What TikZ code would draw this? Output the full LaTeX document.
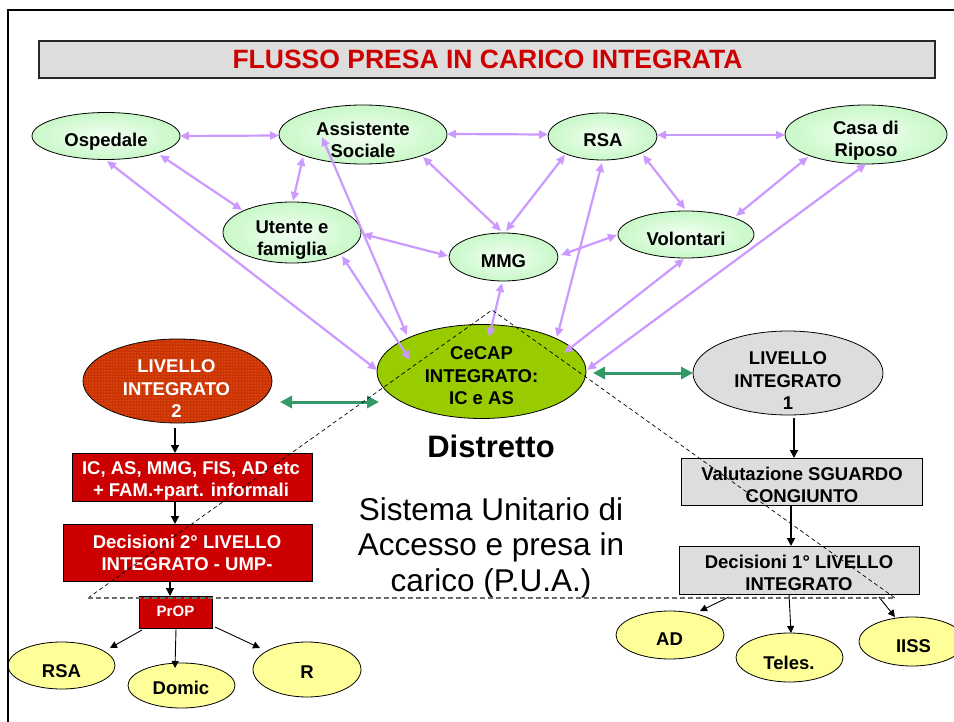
\documentclass[tikz,border=0pt]{standalone}
\usepackage{fontspec}
\setmainfont{Liberation Sans}
\usetikzlibrary{shapes.geometric,arrows.meta,calc,patterns}
\definecolor{purp}{RGB}{204,153,255}
\definecolor{grn}{RGB}{51,153,102}
\definecolor{cecapc}{RGB}{153,204,0}
\definecolor{liv2c}{RGB}{204,51,0}
\definecolor{liv2dot}{RGB}{236,150,120}
\definecolor{redbox}{RGB}{204,0,0}
\definecolor{graybox}{RGB}{221,221,221}
\definecolor{yel}{RGB}{255,255,153}
\definecolor{lgin}{RGB}{244,255,244}
\definecolor{lgout}{RGB}{200,248,200}
\definecolor{dashgray}{RGB}{110,110,110}
\begin{document}
\begin{tikzpicture}[x=1pt,y=-1pt,
  ell/.style={ellipse, draw=black, line width=0.8pt, inner sep=0pt, outer sep=0pt},
  gell/.style={ell, inner color=lgin, outer color=lgout},
  yell/.style={ell, fill=yel},
  boxn/.style={rectangle, draw=black, line width=0.8pt, inner sep=0pt, outer sep=0pt},
  lbl/.style={font=\bfseries\fontsize{18.5}{22}\selectfont, align=center, inner sep=0pt},
  lbltri/.style={font=\bfseries\fontsize{18.5}{22.5}\selectfont, align=center, inner sep=0pt},
  purpconn/.style={draw=purp, line width=2.2pt, arrows={Triangle[length=9pt,width=8pt]-Triangle[length=9pt,width=8pt]}},
  grnconn/.style={draw=grn, line width=3pt, arrows={Triangle[length=12pt,width=12pt]-Triangle[length=12pt,width=12pt]}},
  blkconn/.style={draw=black, line width=1.3pt, arrows={-Triangle[length=8pt,width=8pt]}},
  thinconn/.style={draw=black, line width=0.9pt, arrows={-Triangle[length=7pt,width=7pt]}}
]
\useasboundingbox (0,0) rectangle (954,722);
\fill[white] (0,0) rectangle (954,722);

% title
\node[boxn, draw={rgb,255:red,40;green,40;blue,40}, line width=1.5pt, fill=graybox, minimum width=896pt, minimum height=37pt] (title) at (487,59.5) {};
\node[font=\bfseries\fontsize{26.5}{30}\selectfont, text=redbox, inner sep=0pt] (titleT) at (487.5,59) {FLUSSO PRESA IN CARICO INTEGRATA};

% top ellipses
\node[gell, minimum width=148pt, minimum height=47pt] (osp) at (106,136) {};
\node[gell, minimum width=168pt, minimum height=59pt] (as) at (363,134.5) {};
\node[gell, minimum width=109pt, minimum height=47pt] (rsa) at (602.5,136.5) {};
\node[gell, minimum width=162pt, minimum height=59pt] (casa) at (866,134.5) {};
\node[gell, minimum width=138pt, minimum height=61pt] (ut) at (292,232.5) {};
\node[gell, minimum width=109pt, minimum height=48pt] (mmg) at (503.5,257) {};
\node[gell, minimum width=136pt, minimum height=47pt] (vol) at (686,234.5) {};
\node[ell, fill=cecapc, minimum width=209pt, minimum height=94pt] (cecap) at (481.5,371.5) {};
\node[ell, fill=liv2c, postaction={pattern=dots, pattern color=liv2dot}, minimum width=189pt, minimum height=84pt] (liv2) at (177.5,381) {};
\node[ell, fill=graybox, minimum width=190pt, minimum height=84pt] (liv1) at (788,373) {};

\node[lbl] (ospT) at (106,142) {Ospedale};
\node[lbl] (asT) at (363,139.5) {Assistente\\Sociale};
\node[lbl] (rsaT) at (603,140.5) {RSA};
\node[lbl] (casaT) at (866,141) {Casa di\\Riposo};
\node[lbl] (utT) at (292,240.5) {Utente e\\famiglia};
\node[lbl] (mmgT) at (503.5,261.5) {MMG};
\node[lbl] (volT) at (686,238.5) {Volontari};
\node[lbltri] (cecapT) at (481.5,376) {CeCAP\\INTEGRATO:\\IC e AS};
\node[lbltri, text=white] (liv2T) at (176.5,389) {LIVELLO\\INTEGRATO\\2};
\node[lbltri] (liv1T) at (788,381) {LIVELLO\\INTEGRATO\\1};

% boxes
\node[boxn, fill=redbox, minimum width=240pt, minimum height=48pt] (box1) at (192,477) {};
\node[boxn, fill=redbox, minimum width=249pt, minimum height=57pt] (box2) at (187.5,552.5) {};
\node[boxn, fill=redbox, minimum width=73pt, minimum height=32pt] (prop) at (175.5,612) {};
\node[boxn, fill=graybox, minimum width=241pt, minimum height=47pt] (val) at (801.5,481.5) {};
\node[boxn, fill=graybox, minimum width=240pt, minimum height=48pt] (dec1) at (799,570) {};

\node[lbl, text=white] (box1T) at (191,481) {IC, AS, MMG, FIS, AD etc\\+ FAM.+part. informali};
\node[lbl, text=white] (box2T) at (187,552.5) {Decisioni 2° LIVELLO\\INTEGRATO - UMP-};
\node[font=\bfseries\fontsize{15}{18}\selectfont, text=white, inner sep=0pt] (propT) at (175.5,611.5) {PrOP};
\node[lbl] (valT) at (802,485) {Valutazione SGUARDO\\CONGIUNTO};
\node[lbl] (dec1T) at (799,573) {Decisioni 1° LIVELLO\\INTEGRATO};

% bottom ellipses
\node[yell, minimum width=107pt, minimum height=47pt] (rsa2) at (61.5,665.5) {};
\node[yell, minimum width=107pt, minimum height=45pt] (domic) at (181.5,685.5) {};
\node[yell, minimum width=108pt, minimum height=55pt] (rr) at (307,669.5) {};
\node[yell, minimum width=108pt, minimum height=48pt] (ad) at (670,635) {};
\node[yell, minimum width=107pt, minimum height=49pt] (teles) at (789.5,657.5) {};
\node[yell, minimum width=106pt, minimum height=49pt] (iiss) at (912,641.5) {};

\node[lbl] (rsa2T) at (61.5,671) {RSA};
\node[lbl] (domicT) at (181,688.3) {Domic};
\node[lbl] (rrT) at (307,672.5) {R};
\node[lbl] (adT) at (669.5,639.5) {AD};
\node[lbl] (telesT) at (789,662.5) {Teles.};
\node[lbl] (iissT) at (913.5,646.5) {IISS};

% central texts
\node[font=\bfseries\fontsize{31}{36}\selectfont, inner sep=0pt] (distr) at (491,446) {Distretto};
\node[font=\fontsize{31.5}{35.5}\selectfont, align=center, inner sep=0pt] (pua) at (491,547.5) {Sistema Unitario di\\Accesso e presa in\\carico (P.U.A.)};

% purple connectors
\draw[purpconn] ($(osp)+(74,0)$) -- ($(as)+(-84,1)$);
\draw[purpconn] ($(as)+(84,-0.5)$) -- ($(rsa)+(-54.5,-2)$);
\draw[purpconn] ($(rsa)+(54.5,-1.5)$) -- ($(casa)+(-81,0.5)$);
\draw[purpconn] ($(osp)+(54,19)$) -- ($(ut)+(-50,-22.5)$);
\draw[purpconn] ($(as)+(-60,22.5)$) -- ($(ut)+(1,-31.5)$);
\draw[purpconn] ($(osp)+(1,25)$) -- ($(cecap)+(-104.5,-1.5)$);
\draw[purpconn] ($(ut)+(71,1.5)$) -- ($(mmg)+(-55.5,-1)$);
\draw[purpconn] ($(ut)+(50,23.5)$) -- ($(cecap)+(-71.5,-11.5)$);
\draw[purpconn] ($(as)+(-41,2.5)$) -- ($(cecap)+(-74.5,-36.5)$);
\draw[purpconn] ($(as)+(60,22.5)$) -- ($(mmg)+(-2.5,-26)$);
\draw[purpconn] ($(rsa)+(-37.5,18.5)$) -- ($(mmg)+(2.5,-26)$);
\draw[purpconn] ($(rsa)+(40.5,18.5)$) -- ($(vol)+(-1,-25.5)$);
\draw[purpconn] ($(casa)+(-58,22.5)$) -- ($(vol)+(50,-18.5)$);
\draw[purpconn] ($(vol)+(-69,0.5)$) -- ($(mmg)+(57.5,-2)$);
\draw[purpconn] ($(rsa)+(-0.5,26.5)$) -- ($(cecap)+(75.5,-34.5)$);
\draw[purpconn] ($(vol)+(-2,24.5)$) -- ($(cecap)+(82.5,-18.5)$);
\draw[purpconn] ($(casa)+(0,29.5)$) -- ($(cecap)+(105.5,-1.5)$);
\draw[purpconn] ($(mmg)+(-1.5,26)$) -- ($(cecap)+(7.5,-34.5)$);

% green connectors
\draw[grnconn] ($(liv2)+(102.5,21)$) -- ($(cecap)+(-102.5,30.5)$);
\draw[grnconn] ($(cecap)+(111.5,1.5)$) -- ($(liv1)+(-95,0)$);

% black connectors
\draw[blkconn] ($(liv2.south)+(-2.5,5)$) -- ($(box1.north)+(-17,0)$);
\draw[blkconn] ($(box1.south)+(-17,0)$) -- ($(box2.north)+(-12.5,0)$);
\draw[blkconn] ($(box2.south)+(-17.5,0)$) -- ($(prop.north)+(-5.5,0)$);
\draw[thinconn] ($(prop)+(-33.5,18)$) -- ($(rsa2)+(48.5,-17.5)$);
\draw[thinconn] ($(prop)+(0.5,17)$) -- ($(domic)+(-6.5,-17.5)$);
\draw[thinconn] ($(prop)+(39.5,15)$) -- ($(rr)+(-47,-21.5)$);
\draw[blkconn, line width=1.7pt] ($(liv1)+(6,45)$) -- ($(val)+(-7.5,-23.5)$);
\draw[blkconn, line width=1.7pt] ($(val)+(-10.5,23.5)$) -- ($(dec1)+(-8,-24)$);
\draw[thinconn] ($(dec1)+(-70,27)$) -- ($(ad)+(30,-24)$);
\draw[thinconn] ($(dec1)+(-10,24)$) -- ($(teles)+(1.5,-24.5)$);
\draw[thinconn] ($(dec1)+(80,27)$) -- ($(iiss)+(-17,-24.5)$);

% dashed triangle
\coordinate (apex) at (492,310);
\coordinate (baseL) at (88,598);
\coordinate (baseR) at (895,598);
\draw[black, line width=0.7pt, dash pattern=on 4pt off 3pt] (baseL) -- (apex) -- (baseR);
\draw[dashgray, line width=1.1pt, dash pattern=on 5pt off 3pt] (baseL) -- (baseR);

% outer frame
\draw[line width=2.5pt] (8,722) -- (8,10) -- (960,10);
\end{tikzpicture}
\end{document}
